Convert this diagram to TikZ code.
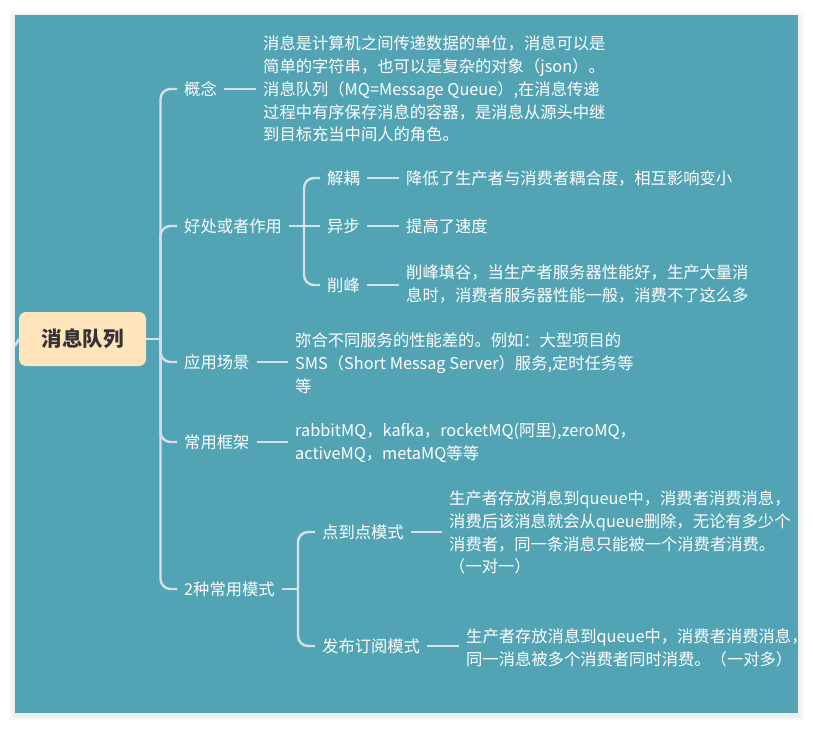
\documentclass[tikz,border=0pt]{standalone}
\usepackage{fontspec}
\setmainfont{Noto Sans CJK SC}
\usetikzlibrary{calc}
\definecolor{bgteal}{RGB}{82,164,181}
\definecolor{rootfill}{RGB}{255,228,188}
\definecolor{linec}{RGB}{218,223,231}
\definecolor{roottext}{RGB}{51,51,51}
\begin{document}
\begin{tikzpicture}[x=1pt,y=-1pt,
 conn/.style={draw=linec, line width=2.4pt},
 curvy/.style={conn, rounded corners=10pt},
 lab/.style={anchor=west, text=white, inner xsep=7pt, inner ysep=2pt, font=\fontsize{16.3}{22.8}\selectfont},
 detail/.style={anchor=west, text=white, align=left, inner xsep=7pt, inner ysep=0pt, font=\fontsize{16.3}{22.8}\selectfont},
 rootbox/.style={fill=rootfill, rounded corners=7pt, minimum width=127pt, minimum height=54pt, text=roottext, font=\fontsize{20.5}{24}\selectfont\bfseries, inner sep=0pt}
]
\useasboundingbox (0,0) rectangle (813,729);
\foreach \i in {1,...,6}
  \fill[black, opacity=0.01] (15-\i,15-\i+2) rectangle (798+\i,713+\i+2);
\fill[bgteal] (15,15) rectangle (798,713);

% root
\node[rootbox] (root) at (82.5,339) {消息队列};
\coordinate (j) at (160.5,339);
\coordinate (lc) at (15,346);
\draw[conn] (lc) -- (root.west);

% level 1
\node[lab] (gn) at (177,89) {概念};
\node[lab] (hc) at (177,226) {好处或者作用};
\node[lab] (yy) at (177,362) {应用场景};
\node[lab] (cy) at (177,442) {常用框架};
\node[lab] (ms) at (177,589) {2种常用模式};

\draw[conn] (root.east) -- (j);
\draw[curvy] (j) |- (gn.west);
\draw[curvy] (j) |- (hc.west);
\draw[curvy] (j) |- (yy.west);
\draw[curvy] (j) |- (cy.west);
\draw[curvy] (j) |- (ms.west);

% 概念
\node[detail] (gnd) at (256,89) {消息是计算机之间传递数据的单位，消息可以是\\简单的字符串，也可以是复杂的对象（json）。\\消息队列（MQ=Message Queue）,在消息传递\\过程中有序保存消息的容器，是消息从源头中继\\到目标充当中间人的角色。};
\draw[conn] (gn.east) -- (gn.east -| gnd.west);

% 好处或者作用
\coordinate (sj) at (304,226);
\draw[conn] (hc.east) -- (sj);
\node[lab] (jo) at (320,178) {解耦};
\node[lab] (yb) at (320,226) {异步};
\node[lab] (xf) at (320,285) {削峰};
\draw[curvy] (sj) |- (jo.west);
\draw[conn] (sj) -- (yb.west);
\draw[curvy] (sj) |- (xf.west);
\node[detail] (jod) at (399,178) {降低了生产者与消费者耦合度，相互影响变小};
\node[detail] (ybd) at (399,226) {提高了速度};
\node[detail] (xfd) at (399,284) {削峰填谷，当生产者服务器性能好，生产大量消\\息时，消费者服务器性能一般，消费不了这么多};
\draw[conn] (jo.east) -- (jo.east -| jod.west);
\draw[conn] (yb.east) -- (yb.east -| ybd.west);
\draw[conn] (xf.east) -- (xf.east -| xfd.west);

% 应用场景
\node[detail] (yyd) at (288,363) {弥合不同服务的性能差的。例如：大型项目的\\SMS（Short Messag Server）服务,定时任务等\\等};
\draw[conn] (yy.east) -- (yy.east -| yyd.west);

% 常用框架
\node[detail] (cyd) at (288,443) {rabbitMQ，kafka，rocketMQ(阿里),zeroMQ，\\activeMQ，metaMQ等等};
\draw[conn] (cy.east) -- (cy.east -| cyd.west);

% 2种常用模式
\coordinate (sj2) at (298,589);
\draw[conn] (ms.east) -- (sj2);
\node[lab] (dd) at (315,532) {点到点模式};
\node[lab] (fb) at (315,646) {发布订阅模式};
\draw[curvy] (sj2) |- (dd.west);
\draw[curvy] (sj2) |- (fb.west);
\node[detail] (ddd) at (442,532.5) {生产者存放消息到queue中，消费者消费消息，\\消费后该消息就会从queue删除，无论有多少个\\消费者，同一条消息只能被一个消费者消费。\\（一对一）};
\node[detail] (fbd) at (459,648) {生产者存放消息到queue中，消费者消费消息，\\同一消息被多个消费者同时消费。（一对多）};
\draw[conn] (dd.east) -- (dd.east -| ddd.west);
\draw[conn] (fb.east) -- (fb.east -| fbd.west);
\end{tikzpicture}
\end{document}
